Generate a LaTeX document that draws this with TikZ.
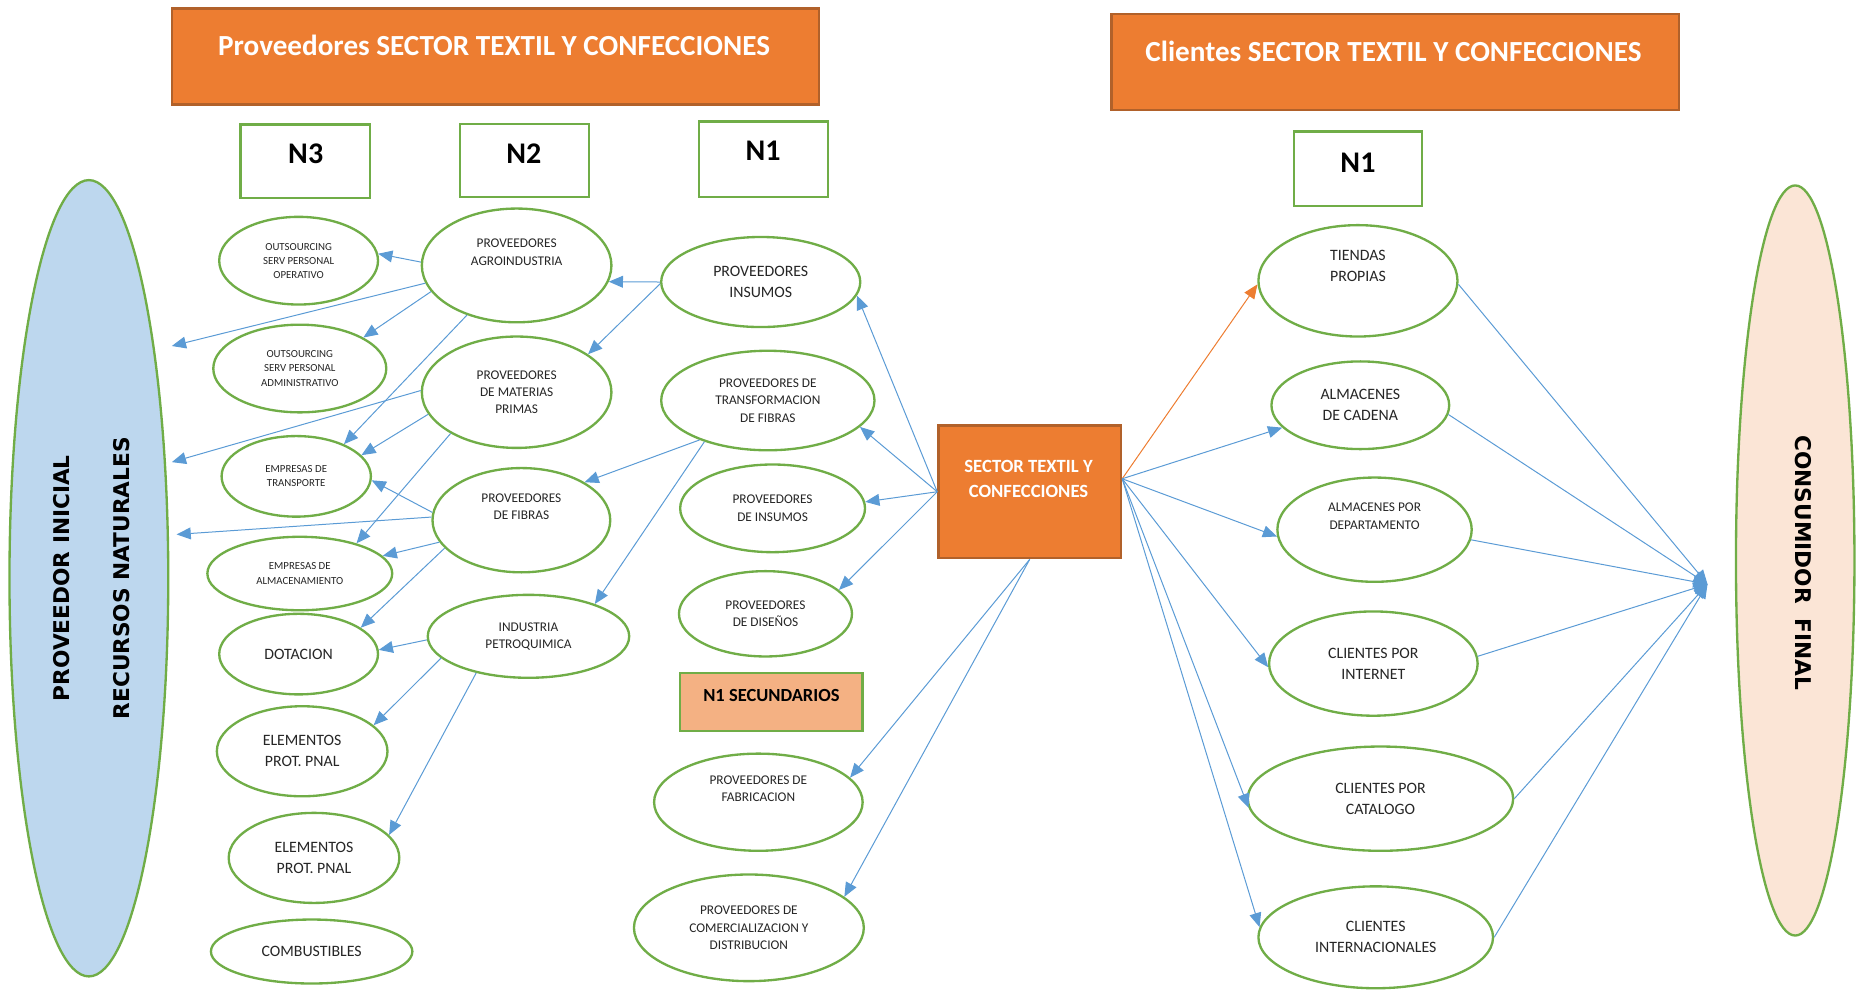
\documentclass[tikz,border=0pt]{standalone}
\usepackage{fontspec}
\setmainfont{Carlito}
\newfontfamily\vertfont{DejaVu Sans}
\usetikzlibrary{arrows.meta, shapes.geometric, positioning}
\usepackage{xcolor}

\definecolor{org}{HTML}{ED7D31}
\definecolor{orgdark}{HTML}{B1612A}
\definecolor{grn}{HTML}{70AD47}
\definecolor{azul}{HTML}{5B9BD5}
\definecolor{celeste}{HTML}{BDD7EE}
\definecolor{durazno}{HTML}{FBE5D6}
\definecolor{salmon}{HTML}{F4B183}

\tikzset{
  elip/.style={draw=grn, line width=1.4pt, ellipse, fill=white, inner sep=0pt, align=center, text=black!85},
  fS/.style={font=\fontsize{6.5}{8.5}\selectfont},
  fM/.style={font=\fontsize{8}{10.5}\selectfont},
  fL/.style={font=\fontsize{9.5}{12.5}\selectfont},
  nbox/.style={draw=grn, line width=1.4pt, rectangle, fill=white},
  tbox/.style={draw=orgdark, line width=1.5pt, rectangle, fill=org},
  ttxt/.style={text=white, font=\bfseries\fontsize{17.5}{21}\selectfont},
  ntxt/.style={font=\bfseries\fontsize{18}{21}\selectfont},
  flecha/.style={-{Triangle[length=0.3cm,width=0.25cm]}, color=azul, line width=0.6pt},
}

\begin{document}
\begin{tikzpicture}
    \useasboundingbox (0,0) rectangle (39.2,-20.9);

    % Titles
    \node[tbox, minimum width=13.65cm, minimum height=2.025cm] (provTit) at (10.45,-1.1875) {};
    \node[ttxt] (provTitTxt) at (10.425,-0.95) {Proveedores SECTOR TEXTIL Y CONFECCIONES};
    \node[tbox, minimum width=11.975cm, minimum height=2.025cm] (cliTit) at (29.4375,-1.3125) {};
    \node[ttxt] (cliTitTxt) at (29.4,-1.075) {Clientes SECTOR TEXTIL Y CONFECCIONES};

    % Level boxes
    \node[nbox, minimum width=2.725cm, minimum height=1.55cm] (N3) at (6.4375,-3.4) {};
    \node[ntxt] (N3txt) at (6.45,-3.25) {N3};
    \node[nbox, minimum width=2.725cm, minimum height=1.55cm] (N2) at (11.0625,-3.3875) {};
    \node[ntxt] (N2txt) at (11.05,-3.25) {N2};
    \node[nbox, minimum width=2.725cm, minimum height=1.6cm] (N1) at (16.1125,-3.3625) {};
    \node[ntxt] (N1txt) at (16.1,-3.175) {N1};
    \node[nbox, minimum width=2.7cm, minimum height=1.575cm] (N1c) at (28.65,-3.5625) {};
    \node[ntxt] (N1ctxt) at (28.65,-3.425) {N1};

    % Proveedor inicial / consumidor final
    \node[draw=grn, line width=1.4pt, ellipse, fill=celeste, minimum width=3.35cm, minimum height=16.8cm] (prov) at (1.875,-12.2) {};
    \node[rotate=90, align=center, font=\vertfont\bfseries\fontsize{13}{36}\selectfont] (provTxt) at (1.94,-12.2) {PROVEEDOR INICIAL\\RECURSOS NATURALES};
    \node[draw=grn, line width=1.4pt, ellipse, fill=durazno, minimum width=2.5cm, minimum height=15.825cm] (cons) at (37.875,-11.825) {};
    \node[rotate=-90, font=\vertfont\bfseries\fontsize{13}{16}\selectfont] (consTxt) at (38.05,-11.875) {CONSUMIDOR\ \ FINAL};

    % N3
    \node[elip, fS, minimum width=3.35cm, minimum height=1.85cm] (op) at (6.3,-5.5) {OUTSOURCING\\SERV PERSONAL\\OPERATIVO};
    \node[elip, fS, minimum width=3.65cm, minimum height=1.85cm] (adm) at (6.325,-7.775) {OUTSOURCING\\SERV PERSONAL\\ADMINISTRATIVO};
    \node[elip, fS, minimum width=3.15cm, minimum height=1.7cm] (tra) at (6.25,-10.05) {EMPRESAS DE\\TRANSPORTE};
    \node[elip, fS, minimum width=3.9cm, minimum height=1.55cm] (alm) at (6.325,-12.1) {EMPRESAS DE\\ALMACENAMIENTO};
    \node[elip, fL, minimum width=3.35cm, minimum height=1.7cm] (dot) at (6.3,-13.8) {DOTACION};
    \node[elip, fL, minimum width=3.6cm, minimum height=1.9cm] (ele1) at (6.375,-15.85) {ELEMENTOS\\PROT. PNAL};
    \node[elip, fL, minimum width=3.6cm, minimum height=1.9cm] (ele2) at (6.625,-18.1) {ELEMENTOS\\PROT. PNAL};
    \node[elip, fL, minimum width=4.25cm, minimum height=1.35cm] (com) at (6.575,-20.075) {COMBUSTIBLES};

    % N2
    \node[elip, fM, minimum width=4cm, minimum height=2.4cm] (agro) at (10.9,-5.6) {PROVEEDORES\\AGROINDUSTRIA\\[2mm]};
    \node[elip, fM, minimum width=4cm, minimum height=2.35cm] (mat) at (10.9,-8.275) {PROVEEDORES\\DE MATERIAS\\PRIMAS};
    \node[elip, fM, minimum width=3.75cm, minimum height=2.2cm] (fib) at (11,-10.975) {PROVEEDORES\\DE FIBRAS\\[2mm]};
    \node[elip, fM, minimum width=4.25cm, minimum height=1.75cm] (petro) at (11.15,-13.425) {INDUSTRIA\\PETROQUIMICA};

    % N1
    \node[elip, fL, minimum width=4.2cm, minimum height=1.9cm] (ins) at (16.05,-5.95) {PROVEEDORES\\INSUMOS};
    \node[elip, fM, minimum width=4.5cm, minimum height=2.1cm] (traf) at (16.2,-8.45) {PROVEEDORES DE\\TRANSFORMACION\\DE FIBRAS};
    \node[elip, fM, minimum width=3.9cm, minimum height=1.85cm] (deins) at (16.3,-10.725) {PROVEEDORES\\DE INSUMOS};
    \node[elip, fM, minimum width=3.65cm, minimum height=1.8cm] (dis) at (16.15,-12.95) {PROVEEDORES\\DE DISEÑOS};
    \node[draw=grn, line width=1.4pt, fill=salmon, minimum width=3.85cm, minimum height=1.225cm] (secund) at (16.275,-14.81) {};
    \node[font=\bfseries\fontsize{11.1}{13}\selectfont] (secundTxt) at (16.275,-14.675) {N1 SECUNDARIOS};
    \node[elip, fM, minimum width=4.4cm, minimum height=2.05cm] (fab) at (16,-16.925) {PROVEEDORES DE\\FABRICACION\\[2mm]};
    \node[elip, fM, minimum width=4.85cm, minimum height=2.25cm] (comer) at (15.8,-19.575) {PROVEEDORES DE\\COMERCIALIZACION Y\\DISTRIBUCION};

    % Sector
    \node[tbox, minimum width=3.85cm, minimum height=2.8cm] (sec) at (21.725,-10.375) {};
    \node[text=white, align=center, font=\bfseries\fontsize{11.2}{14.9}\selectfont] (secTxt) at (21.7,-10.11) {SECTOR TEXTIL Y\\CONFECCIONES};

    % Clientes
    \node[elip, fL, minimum width=4.2cm, minimum height=2.35cm] (tie) at (28.65,-5.925) {TIENDAS\\PROPIAS\\[2mm]};
    \node[elip, fL, minimum width=3.75cm, minimum height=1.85cm] (cad) at (28.7,-8.55) {ALMACENES\\DE CADENA};
    \node[elip, fM, minimum width=4.1cm, minimum height=2.2cm] (dep) at (29,-11.175) {ALMACENES POR\\DEPARTAMENTO\\[2mm]};
    \node[elip, fL, minimum width=4.4cm, minimum height=2.2cm] (int) at (28.975,-14) {CLIENTES POR\\INTERNET};
    \node[elip, fL, minimum width=5.6cm, minimum height=2.2cm] (cat) at (29.125,-16.85) {CLIENTES POR\\CATALOGO};
    \node[elip, fL, minimum width=4.95cm, minimum height=2.15cm] (inter) at (29.025,-19.775) {CLIENTES\\INTERNACIONALES};

    % Free ends
    \coordinate (pinA) at (3.625,-7.3);
    \coordinate (pinB) at (3.625,-9.75);
    \coordinate (pinC) at (3.725,-11.275);
    \coordinate (meet) at (36.025,-12.325);

    % Arrows N2 -> N3
    \path [flecha] (agro.178) edge (op.5);
    \path [flecha] (agro.191) edge (pinA);
    \path [flecha] (agro.197) edge (adm.26);
    \path [flecha] (agro.225) edge (tra.34);
    \path [flecha] (mat.179) edge (pinB);
    \path [flecha] (mat.194) edge (tra.18);
    \path [flecha] (mat.212) edge (alm.28);
    \path [flecha] (fib.175) edge (tra.357);
    \path [flecha] (fib.178) edge (pinC);
    \path [flecha] (fib.195) edge (alm.12);
    \path [flecha] (fib.200) edge (dot.23);
    \path [flecha] (petro.182) edge (dot.3);
    \path [flecha] (petro.194) edge (ele1.20);
    \path [flecha] (petro.215) edge (ele2.17);

    % Arrows N1 -> N2
    \path [flecha] (ins.180) edge (agro.350);
    \path [flecha] (ins.181) edge (mat.28);
    \path [flecha] (traf.210) edge (fib.31);
    \path [flecha] (traf.213) edge (petro.26);

    % Arrows sector -> N1
    \path [flecha] (sec.west) edge (ins.352);
    \path [flecha] (sec.west) edge (traf.344);
    \path [flecha] (sec.west) edge (deins.4);
    \path [flecha] (sec.west) edge (dis.18);
    \path [flecha] (sec.south) edge (fab.15);
    \path [flecha] (sec.south) edge (comer.18);

    % Arrows sector -> clientes
    \path [flecha, color=org] (sec.8) edge (tie.182);
    \path [flecha] (sec.8) edge (cad.196);
    \path [flecha] (sec.8) edge (dep.184);
    \path [flecha] (sec.8) edge (int.182);
    \path [flecha] (sec.8) edge (cat.184);
    \path [flecha] (sec.8) edge (inter.175);

    % Arrows clientes -> consumidor
    \path [flecha] (tie.358) edge (meet);
    \path [flecha] (cad.354) edge (meet);
    \path [flecha] (dep.354) edge (meet);
    \path [flecha] (int.4) edge (meet);
    \path [flecha] (cat.0) edge (meet);
    \path [flecha] (inter.0) edge (meet);
\end{tikzpicture}
\end{document}
